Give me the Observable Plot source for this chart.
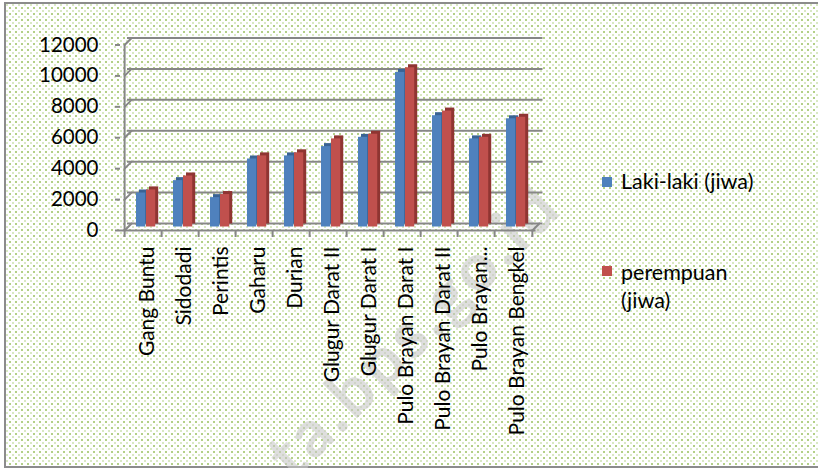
<!DOCTYPE html>
<html><head><meta charset="utf-8">
<script src="https://cdn.jsdelivr.net/npm/d3@7"></script>
<script src="https://cdn.jsdelivr.net/npm/@observablehq/plot@0.6"></script>
<style>
html,body{margin:0;padding:0;width:818px;height:468px;overflow:hidden;background:#fff;}
#wrap{position:relative;width:818px;height:468px;overflow:hidden;font-family:Lato,"Open Sans",sans-serif;}
#bg{position:absolute;left:4px;top:2px;width:830px;height:462px;border:2px solid #8c8c8c;background-color:#fff;
 background-image:radial-gradient(circle,#b3d088 0.9px,transparent 1.4px),radial-gradient(circle,#d9e9c3 0.8px,transparent 1.3px);
 background-size:6px 6px,6px 6px;background-position:1px 1px,4px 4px;}
#wm{position:absolute;left:300px;top:420px;font:bold 66px Lato,sans-serif;line-height:68px;letter-spacing:4px;color:rgba(200,200,200,0.6);
 transform-origin:0 100%;transform:rotate(-45deg);white-space:nowrap;}
#chart{position:absolute;left:0;top:0;}
.lg{position:absolute;font-size:21.5px;line-height:24px;color:#000;white-space:nowrap;}
.sw{position:absolute;width:10px;height:10px;}
</style></head>
<body><div id="wrap"><div id="bg"></div><div id="wm">ta.bps.go.id</div><div id="chart"></div><div id="legend"></div></div>
<script>
const categories = ["Gang Buntu","Sidodadi","Perintis","Gaharu","Durian","Glugur Darat II","Glugur Darat I","Pulo Brayan Darat I","Pulo Brayan Darat II","Pulo Brayan...","Pulo Brayan Bengkel"];
const laki = [2200,3000,1900,4400,4600,5200,5800,10000,7200,5700,7000];
const perempuan = [2400,3300,2100,4600,4800,5700,6000,10300,7500,5800,7100];
const seriesNames = ["Laki-laki (jiwa)","perempuan (jiwa)"];
const seriesColors = ["#4f81bd","#c0504d"];
const seriesShade = ["#3a6394","#8f3532"];
const yTicks = [0,2000,4000,6000,8000,10000,12000];

const W=818,H=468,ML=123.5,MR=279,MT=41,MB=241.5;
const step=(W-ML-MR)/categories.length;
const depth=3.5;
const gridColor="#878787";
const rows=[];
categories.forEach((c,i)=>{rows.push({cat:c,series:0,value:laki[i]});rows.push({cat:c,series:1,value:perempuan[i]});});
const s0=rows.filter(d=>d.series===0), s1=rows.filter(d=>d.series===1);
const line={draw(ctx,l){ctx.moveTo(0,0);ctx.lineTo(0,-l);}};
const bw=10, off=8;
function bars(data,k){
  const iL=off+k*bw, iR=step-off-(k+1)*bw;
  return [
    Plot.barY(data,{x:"cat",y:"value",fill:seriesShade[k],insetLeft:iL,insetRight:iR,dx:3,dy:-3}),
    Plot.barY(data,{x:"cat",y:"value",fill:seriesColors[k],insetLeft:iL,insetRight:iR})
  ];
}
const chart=Plot.plot({
  width:W,height:H,marginLeft:ML,marginRight:MR,marginTop:MT,marginBottom:MB,
  style:{background:"transparent",fontFamily:"Lato, 'Open Sans', sans-serif",color:"#000"},
  x:{type:"band",domain:categories,padding:0,label:null,axis:null},
  y:{domain:[0,12000],label:null,axis:null},
  marks:[
    Plot.ruleY(yTicks,{dx:depth,dy:-depth,stroke:gridColor,strokeWidth:2}),
    Plot.vector(yTicks,{x:()=>categories[0],y:d=>d,length:depth*2*Math.SQRT2,rotate:45,anchor:"start",shape:line,stroke:gridColor,strokeWidth:2,dx:-step/2-depth,dy:depth}),
    Plot.vector([0],{x:()=>categories[categories.length-1],y:d=>d,length:depth*2*Math.SQRT2,rotate:45,anchor:"start",shape:line,stroke:gridColor,strokeWidth:2,dx:step/2-depth,dy:depth}),
    ...bars(s0,0),
    ...bars(s1,1),
    Plot.ruleY([0],{dx:-depth,dy:depth,stroke:gridColor,strokeWidth:2}),
    Plot.ruleX([categories[0]],{dx:-step/2-depth,dy:depth,stroke:gridColor,strokeWidth:2}),
    Plot.axisX({tickSize:7,tickFormat:()=>"",dx:-step/2-depth,dy:depth,stroke:gridColor,strokeWidth:2,label:null}),
    Plot.axisX([categories[categories.length-1]],{tickSize:7,tickFormat:()=>"",dx:step/2-depth,dy:depth,stroke:gridColor,strokeWidth:2,label:null}),
    Plot.axisX({tickSize:0,tickRotate:-90,tickPadding:16,fontSize:21,dy:depth,fill:"#000",label:null}),
    Plot.axisY(yTicks,{tickSize:5,tickPadding:17,fontSize:20.5,dx:-depth,dy:depth,stroke:gridColor,strokeWidth:2,fill:"#000",label:null,tickFormat:d=>String(d)})
  ]
});
document.getElementById("chart").appendChild(chart);
const lg=document.getElementById("legend");
lg.innerHTML=
 `<div class="sw" style="left:602px;top:177px;background:${seriesColors[0]}"></div>`+
 `<div class="lg" style="left:621px;top:169px">${seriesNames[0]}</div>`+
 `<div class="sw" style="left:602px;top:266px;background:${seriesColors[1]}"></div>`+
 `<div class="lg" style="left:621px;top:258px;line-height:28px">${seriesNames[1].split(" ")[0]}<br>${seriesNames[1].split(" ")[1]}</div>`;
</script></body></html>
